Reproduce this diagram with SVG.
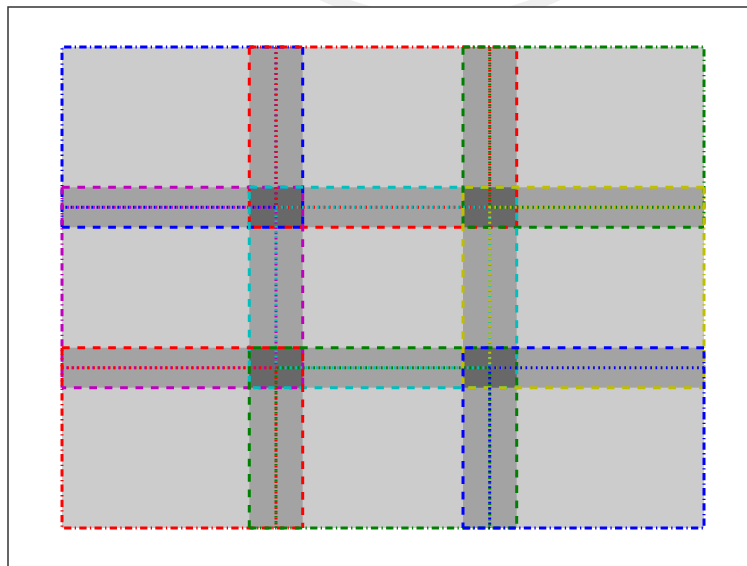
<svg xmlns="http://www.w3.org/2000/svg" width="747" height="566" viewBox="0 0 747 566">
<style>
.f{fill:#000;fill-opacity:0.2;stroke:none}
.ds{fill:none;stroke-width:3;stroke-dasharray:7.7 7.7}
.dd{fill:none;stroke-width:3;stroke-dasharray:7.3 3.3 1.3 3.3}
.dt{fill:none;stroke-width:3;stroke-dasharray:1.7 3.5}
.b{stroke:#0000ff}.r{stroke:#ff0000}.g{stroke:#008000}.m{stroke:#bf00bf}.c{stroke:#00bfbf}.y{stroke:#bfbf00}
</style>
<rect x="0" y="0" width="747" height="566" fill="#ffffff"/>
<circle cx="440" cy="-250" r="271.5" fill="none" stroke="#efefef" stroke-width="12"/>
<rect x="8" y="7" width="760" height="580" fill="#ffffff" stroke="#333333" stroke-width="1.5"/>
<g id="fills">
<rect class="f" x="62" y="47" width="240.7" height="180.3"/>
<rect class="f" x="249.3" y="47" width="267.4" height="180.3"/>
<rect class="f" x="463" y="47" width="241" height="180.3"/>
<rect class="f" x="62" y="187.3" width="240.7" height="200.4"/>
<rect class="f" x="249.3" y="187.3" width="267.4" height="200.4"/>
<rect class="f" x="463" y="187.3" width="241" height="200.4"/>
<rect class="f" x="62" y="347.7" width="240.7" height="180.3"/>
<rect class="f" x="249.3" y="347.7" width="267.4" height="180.3"/>
<rect class="f" x="463" y="347.7" width="241" height="180.3"/>
</g>
<g id="lines">
<g id="cell-0-0">
<path class="ds b" d="M302.7,47 V227.3 M62,227.3 H302.7"/>
<path class="dd b" d="M62,227.3 V47 H302.7"/>
<path class="dt b" d="M276,47 V207.3 H62"/>
</g>
<g id="cell-0-1">
<path class="ds r" d="M249.3,47 V227.3 H516.7 V47"/>
<path class="dd r" d="M249.3,47 H516.7"/>
<path class="dt r" d="M276,47 V207.3 H489.7 V47"/>
</g>
<g id="cell-0-2">
<path class="ds g" d="M463,47 V227.3 H704"/>
<path class="dd g" d="M463,47 H704 V227.3"/>
<path class="dt g" d="M489.7,47 V207.3 H704"/>
</g>
<g id="cell-1-0">
<path class="ds m" d="M62,187.3 H302.7 V387.7 H62"/>
<path class="dd m" d="M62,187.3 V387.7"/>
<path class="dt m" d="M62,207.3 H276 V367.7 H62"/>
</g>
<g id="cell-1-1">
<path class="ds c" d="M249.3,187.3 H516.7 V387.7 H249.3 Z"/>
<path class="dt c" d="M276,207.3 H489.7 V367.7 H276 Z"/>
</g>
<g id="cell-1-2">
<path class="ds y" d="M704,187.3 H463 V387.7 H704"/>
<path class="dd y" d="M704,187.3 V387.7"/>
<path class="dt y" d="M704,207.3 H489.7 V367.7 H704"/>
</g>
<g id="cell-2-0">
<path class="ds r" d="M62,347.7 H302.7 V528"/>
<path class="dd r" d="M62,347.7 V528 H302.7"/>
<path class="dt r" d="M62,367.7 H276 V528"/>
</g>
<g id="cell-2-1">
<path class="ds g" d="M249.3,528 V347.7 H516.7 V528"/>
<path class="dd g" d="M249.3,528 H516.7"/>
<path class="dt g" d="M276,528 V367.7 H489.7 V528"/>
</g>
<g id="cell-2-2">
<path class="ds b" d="M704,347.7 H463 V528"/>
<path class="dd b" d="M463,528 H704 V347.7"/>
<path class="dt b" d="M704,367.7 H489.7 V528"/>
</g>
</g>
</svg>
